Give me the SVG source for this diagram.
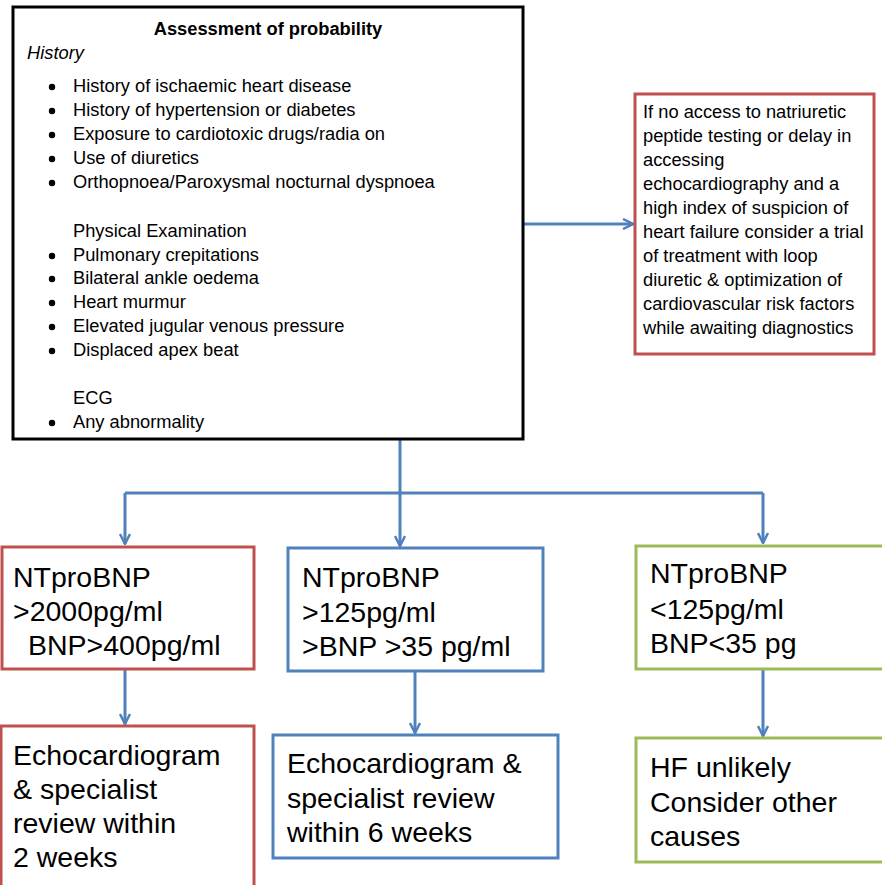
<svg xmlns="http://www.w3.org/2000/svg" width="882" height="885" viewBox="0 0 882 885">
<style>
  text { font-family: "Liberation Sans", Arial, sans-serif; fill: #000; }
  .s { font-size: 18.3px; }
  .b { font-size: 28.5px; }
  .box { fill: #fff; stroke-width: 3; }
  .red { stroke: #C0504D; }
  .blue { stroke: #4F81BD; }
  .green { stroke: #9BBB59; }
  .conn { fill: none; stroke: #4F81BD; stroke-width: 3; }
  .dot { fill: #000; }
</style>
<defs>
  <marker id="arr" viewBox="0 0 12 12" refX="11" refY="6" markerWidth="12" markerHeight="12" markerUnits="userSpaceOnUse" orient="auto">
    <path d="M1,1 L11,6 L1,11" fill="none" stroke="#4F81BD" stroke-width="2.5"/>
  </marker>
</defs>
<rect width="882" height="885" fill="#fff"/>

<g id="connectors">
  <path class="conn" d="M523,224 L633,224" marker-end="url(#arr)"/>
  <path class="conn" d="M400,440 L400,493"/>
  <path class="conn" d="M125,493 L763,493"/>
  <path class="conn" d="M125,493 L125,544" marker-end="url(#arr)"/>
  <path class="conn" d="M400,493 L400,546" marker-end="url(#arr)"/>
  <path class="conn" d="M763,493 L763,543" marker-end="url(#arr)"/>
  <path class="conn" d="M125,669 L125,724" marker-end="url(#arr)"/>
  <path class="conn" d="M415,671 L415,733" marker-end="url(#arr)"/>
  <path class="conn" d="M763,669 L763,736" marker-end="url(#arr)"/>
</g>

<g id="assessment">
  <rect x="13" y="7" width="510" height="432" fill="#fff" stroke="#000" stroke-width="3"/>
  <text class="s" x="268" y="35" text-anchor="middle" font-weight="bold">Assessment of probability</text>
  <text class="s" x="27" y="59" font-style="italic">History</text>
  <g class="dot">
    <circle cx="52" cy="87" r="3.2"/><circle cx="52" cy="111" r="3.2"/><circle cx="52" cy="135" r="3.2"/>
    <circle cx="52" cy="159" r="3.2"/><circle cx="52" cy="183" r="3.2"/><circle cx="52" cy="256" r="3.2"/>
    <circle cx="52" cy="279" r="3.2"/><circle cx="52" cy="303" r="3.2"/><circle cx="52" cy="327" r="3.2"/>
    <circle cx="52" cy="351" r="3.2"/><circle cx="52" cy="423" r="3.2"/>
  </g>
  <g class="s">
    <text x="73" y="92">History of ischaemic heart disease</text>
    <text x="73" y="116">History of hypertension or diabetes</text>
    <text x="73" y="140">Exposure to cardiotoxic drugs/radia on</text>
    <text x="73" y="164">Use of diuretics</text>
    <text x="73" y="188">Orthopnoea/Paroxysmal nocturnal dyspnoea</text>
    <text x="73" y="237">Physical Examination</text>
    <text x="73" y="261">Pulmonary crepitations</text>
    <text x="73" y="284">Bilateral ankle oedema</text>
    <text x="73" y="308">Heart murmur</text>
    <text x="73" y="332">Elevated jugular venous pressure</text>
    <text x="73" y="356">Displaced apex beat</text>
    <text x="73" y="404">ECG</text>
    <text x="73" y="428">Any abnormality</text>
  </g>
</g>

<g id="no-access">
  <rect class="box red" x="635" y="94" width="239" height="260"/>
  <g class="s">
    <text x="643" y="118">If no access to natriuretic</text>
    <text x="643" y="142">peptide testing or delay in</text>
    <text x="643" y="166">accessing</text>
    <text x="643" y="190">echocardiography and a</text>
    <text x="643" y="214">high index of suspicion of</text>
    <text x="643" y="238">heart failure consider a trial</text>
    <text x="643" y="262">of treatment with loop</text>
    <text x="643" y="286">diuretic &amp; optimization of</text>
    <text x="643" y="310">cardiovascular risk factors</text>
    <text x="643" y="334">while awaiting diagnostics</text>
  </g>
</g>

<g id="high">
  <rect class="box red" x="2" y="547" width="252" height="122"/>
  <g class="b">
    <text x="13" y="587">NTproBNP</text>
    <text x="13" y="621">&gt;2000pg/ml</text>
    <text x="28" y="655">BNP&gt;400pg/ml</text>
  </g>
</g>

<g id="mid">
  <rect class="box blue" x="288" y="548" width="255" height="123"/>
  <g class="b">
    <text x="302" y="587">NTproBNP</text>
    <text x="302" y="622">&gt;125pg/ml</text>
    <text x="302" y="656">&gt;BNP &gt;35 pg/ml</text>
  </g>
</g>

<g id="low">
  <rect class="box green" x="636" y="546" width="260" height="123"/>
  <g class="b">
    <text x="650" y="583">NTproBNP</text>
    <text x="650" y="619">&lt;125pg/ml</text>
    <text x="650" y="653">BNP&lt;35 pg</text>
  </g>
</g>

<g id="echo2">
  <rect class="box red" x="1" y="726" width="253" height="180"/>
  <g class="b">
    <text x="13" y="765">Echocardiogram</text>
    <text x="13" y="799">&amp; specialist</text>
    <text x="13" y="833">review within</text>
    <text x="13" y="867">2 weeks</text>
  </g>
</g>

<g id="echo6">
  <rect class="box blue" x="273" y="735" width="285" height="123"/>
  <g class="b">
    <text x="287" y="773">Echocardiogram &amp;</text>
    <text x="287" y="808">specialist review</text>
    <text x="287" y="842">within 6 weeks</text>
  </g>
</g>

<g id="unlikely">
  <rect class="box green" x="636" y="738" width="260" height="124"/>
  <g class="b">
    <text x="650" y="777">HF unlikely</text>
    <text x="650" y="812">Consider other</text>
    <text x="650" y="846">causes</text>
  </g>
</g>
</svg>
